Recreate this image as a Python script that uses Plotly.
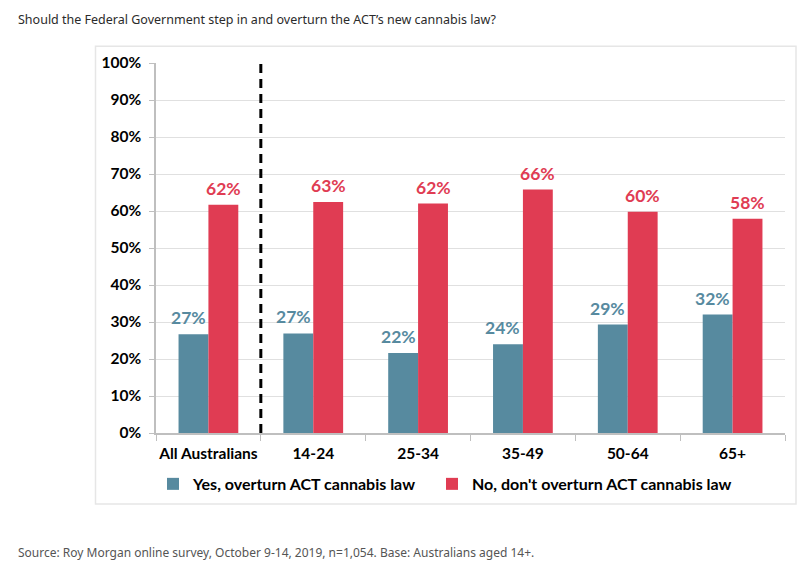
import plotly.graph_objects as go

categories = ["All Australians", "14-24", "25-34", "35-49", "50-64", "65+"]
yes_values = [26.7, 26.9, 21.6, 24.0, 29.3, 32.0]
no_values = [61.7, 62.4, 62.0, 65.8, 59.8, 57.9]
yes_labels = ["27%", "27%", "22%", "24%", "29%", "32%"]
no_labels = ["62%", "63%", "62%", "66%", "60%", "58%"]
y_ticks = [0, 10, 20, 30, 40, 50, 60, 70, 80, 90, 100]
y_tick_labels = [f"{t}%" for t in y_ticks]

BLUE = "#578A9F"
RED = "#E03C53"
W, H = 803, 573
L, R, T, B = 156, 785, 62.7, 433
BARGAP = 0.43
HALF = (1 - BARGAP) / 4  # offset of each bar centre from the category centre

def px_x(px):
    return (px - L) / (R - L)

def px_y(py):
    return (B - py) / (B - T)

fig = go.Figure()
fig.add_trace(go.Bar(
    x=categories, y=yes_values, name="Yes, overturn ACT cannabis law",
    marker=dict(color=BLUE, line=dict(width=0)),
    legend="legend",
))
fig.add_trace(go.Bar(
    x=categories, y=no_values, name="No, don't overturn ACT cannabis law",
    marker=dict(color=RED, line=dict(width=0)),
    legend="legend2",
))

annotations = []
label_font = dict(size=17.5, family="Lato", weight="bold")
for i, (v, t) in enumerate(zip(yes_values, yes_labels)):
    annotations.append(dict(x=i - HALF, y=v, xref="x", yref="y", text=t, showarrow=False,
                            yanchor="bottom", yshift=4, xshift=-5,
                            font=dict(color=BLUE, **label_font)))
for i, (v, t) in enumerate(zip(no_values, no_labels)):
    annotations.append(dict(x=i + HALF, y=v, xref="x", yref="y", text=t, showarrow=False,
                            yanchor="bottom", yshift=4,
                            font=dict(color=RED, **label_font)))

annotations += [
    dict(text="Should the Federal Government step in and overturn the ACT’s new cannabis law?",
         xref="paper", yref="paper", x=px_x(16), y=px_y(19), xanchor="left", yanchor="middle",
         showarrow=False, font=dict(size=12.5, family="Noto Sans", color="#2b2b2b")),
    dict(text="Source: Roy Morgan online survey, October 9-14, 2019, n=1,054. Base: Australians aged 14+.",
         xref="paper", yref="paper", x=px_x(16), y=px_y(553), xanchor="left", yanchor="middle",
         showarrow=False, font=dict(size=12, family="Noto Sans", color="#555555")),
]

# outer light border box
fig.add_shape(type="rect", xref="paper", yref="paper",
              x0=px_x(95.5), x1=px_x(796), y0=px_y(504), y1=px_y(46),
              line=dict(color="#E6E6E6", width=1.5), fillcolor="rgba(0,0,0,0)", layer="below")

# dashed separator
fig.add_shape(type="line", xref="x", yref="y", x0=0.5, x1=0.5, y0=0, y1=100,
              line=dict(color="black", width=3, dash="9px,6px"))

legend_font = dict(size=16, family="Lato", weight="bold", color="black")

fig.update_layout(
    width=W, height=H,
    margin=dict(l=L, r=W - R, t=T, b=H - B),
    paper_bgcolor="white", plot_bgcolor="white",
    barmode="group", bargap=BARGAP, bargroupgap=0,
    font=dict(family="Lato", color="black"),
    showlegend=True,
    legend=dict(orientation="h", x=px_x(153), xanchor="left", y=px_y(484), yanchor="middle",
                font=legend_font, itemwidth=30, bgcolor="rgba(0,0,0,0)"),
    legend2=dict(orientation="h", x=px_x(432), xanchor="left", y=px_y(484), yanchor="middle",
                 font=legend_font, itemwidth=30, bgcolor="rgba(0,0,0,0)"),
    xaxis=dict(
        showline=True, linecolor="#BFBFBF", linewidth=1.5,
        ticks="outside", tickson="boundaries", ticklen=6, tickcolor="#BFBFBF",
        tickfont=dict(size=15.5, family="Lato", weight="bold", color="black"),
        ticklabelstandoff=6,
        tickangle=0, showgrid=False, fixedrange=True,
    ),
    yaxis=dict(
        range=[0, 100], tickvals=y_ticks, ticktext=y_tick_labels,
        showline=True, linecolor="#BFBFBF", linewidth=1.5,
        ticks="outside", ticklen=5, tickcolor="#BFBFBF",
        tickfont=dict(size=15.5, family="Lato", weight="bold", color="black"),
        ticklabelstandoff=5,
        showgrid=True, gridcolor="#E0E0E0", gridwidth=1,
        zeroline=False, fixedrange=True,
    ),
    annotations=annotations,
)

fig.write_html("out.html", config={"displayModeBar": False},
               post_script="document.body.style.margin='0px';document.body.style.overflow='hidden';")
